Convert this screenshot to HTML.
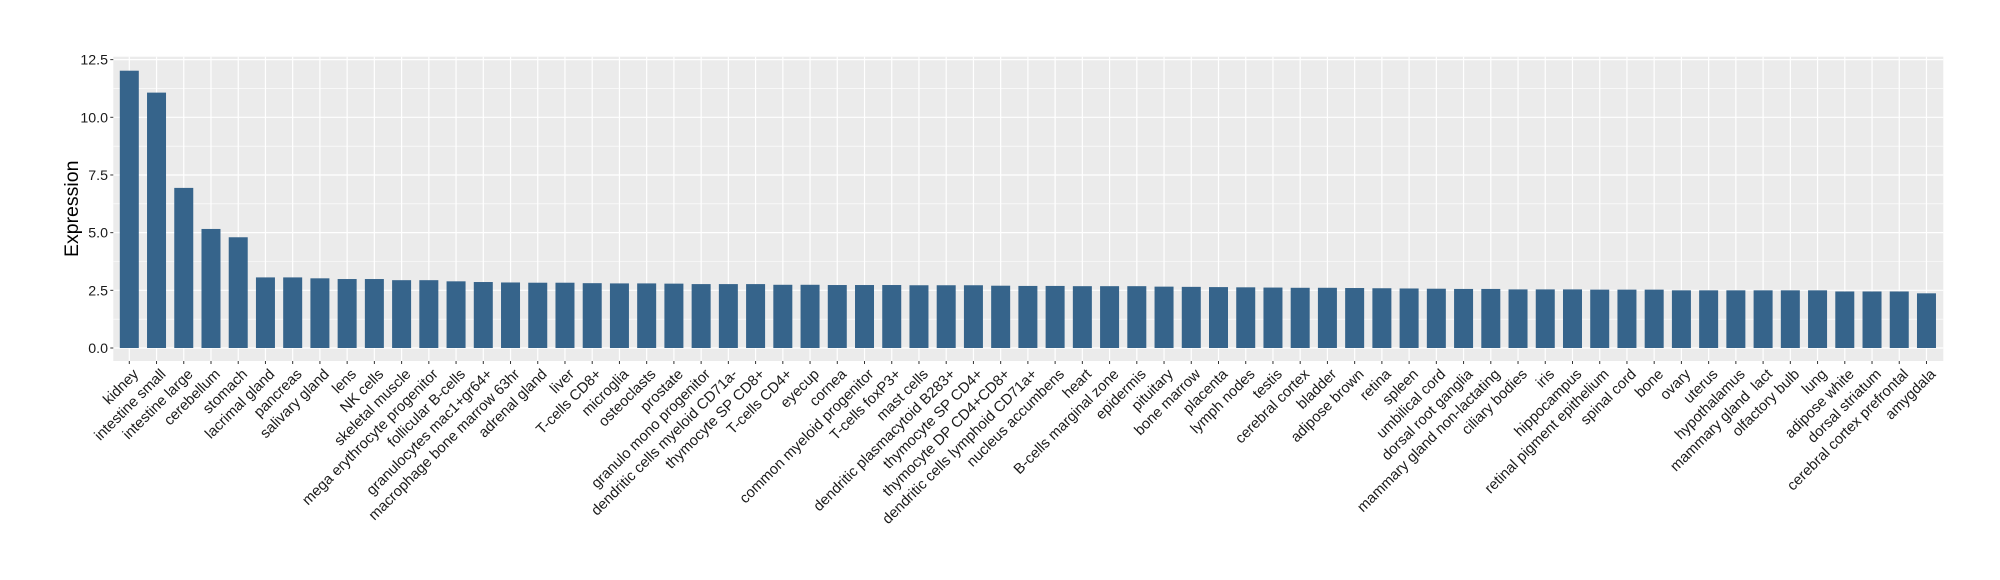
<!DOCTYPE html>
<html><head><meta charset="utf-8"><style>html,body{margin:0;padding:0;background:#fff;width:2000px;height:580px;overflow:hidden}</style></head>
<body>
<svg id="c" width="2000" height="580" xmlns="http://www.w3.org/2000/svg" font-family="Liberation Sans, Arial, sans-serif"></svg>
<script>
var labels=["kidney","intestine small","intestine large","cerebellum","stomach","lacrimal gland","pancreas","salivary gland","lens","NK cells","skeletal muscle","mega erythrocyte progenitor","follicular B-cells","granulocytes mac1+gr64+","macrophage bone marrow 63hr","adrenal gland","liver","T-cells CD8+","microglia","osteoclasts","prostate","granulo mono progenitor","dendritic cells myeloid CD71a-","thymocyte SP CD8+","T-cells CD4+","eyecup","cornea","common myeloid progenitor","T-cells foxP3+","mast cells","dendritic plasmacytoid B283+","thymocyte SP CD4+","thymocyte DP CD4+CD8+","dendritic cells lymphoid CD71a+","nucleus accumbens","heart","B-cells marginal zone","epidermis","pituitary","bone marrow","placenta","lymph nodes","testis","cerebral cortex","bladder","adipose brown","retina","spleen","umbilical cord","dorsal root ganglia","mammary gland non-lactating","ciliary bodies","iris","hippocampus","retinal pigment epithelium","spinal cord","bone","ovary","uterus","hypothalamus","mammary gland  lact","olfactory bulb","lung","adipose white","dorsal striatum","cerebral cortex prefrontal","amygdala"];
var v=[12.02,11.07,6.94,5.16,4.80,3.06,3.06,3.02,2.99,2.99,2.94,2.94,2.89,2.86,2.84,2.83,2.83,2.81,2.80,2.80,2.79,2.77,2.77,2.77,2.74,2.74,2.73,2.73,2.73,2.72,2.72,2.72,2.70,2.69,2.69,2.68,2.68,2.68,2.66,2.65,2.64,2.63,2.62,2.61,2.61,2.60,2.59,2.58,2.57,2.56,2.56,2.54,2.54,2.54,2.53,2.53,2.53,2.50,2.50,2.50,2.50,2.50,2.50,2.45,2.45,2.45,2.37];
var L=113.3,R=1943.3,T=56.7,B=361,y0=348,k=23.07,x0=129.3,st=27.23,bw=19;
var s='<rect x="'+L+'" y="'+T+'" width="'+(R-L)+'" height="'+(B-T)+'" fill="#ebebeb"/>';
for(var i=0;i<=10;i++){var y=y0-i*1.25*k;if(y<T)break;s+='<line x1="'+L+'" x2="'+R+'" y1="'+y+'" y2="'+y+'" stroke="#fff" stroke-width="'+(i%2?0.6:1.2)+'"/>';}
for(var i=0;i<67;i++){var x=x0+i*st;s+='<line x1="'+x+'" x2="'+x+'" y1="'+T+'" y2="'+B+'" stroke="#fff" stroke-width="1.2"/>';}
for(var i=0;i<67;i++){var x=x0+i*st;var h=v[i]*k;s+='<rect x="'+(x-bw/2)+'" y="'+(y0-h)+'" width="'+bw+'" height="'+h+'" fill="#36648b"/>';
s+='<line x1="'+x+'" x2="'+x+'" y1="'+B+'" y2="'+(B+3)+'" stroke="#333" stroke-width="1"/>';
s+='<text transform="translate('+(x+10)+',375) rotate(-45)" text-anchor="end" font-size="14.8" fill="#1a1a1a">'+labels[i].replace(/ /g,'\u00a0')+'</text>';}
var tl=["0.0","2.5","5.0","7.5","10.0","12.5"];
for(var i=0;i<6;i++){var y=y0-i*2.5*k;s+='<line x1="'+(L-3)+'" x2="'+L+'" y1="'+y+'" y2="'+y+'" stroke="#333" stroke-width="1"/>';
s+='<text x="108" y="'+(y+5)+'" text-anchor="end" font-size="14.2" fill="#1a1a1a">'+tl[i]+'</text>';}
s+='<text transform="translate(78,208.8) rotate(-90)" text-anchor="middle" font-size="19.5" fill="#000">Expression</text>';
document.getElementById('c').innerHTML=s;
</script>
</body></html>
